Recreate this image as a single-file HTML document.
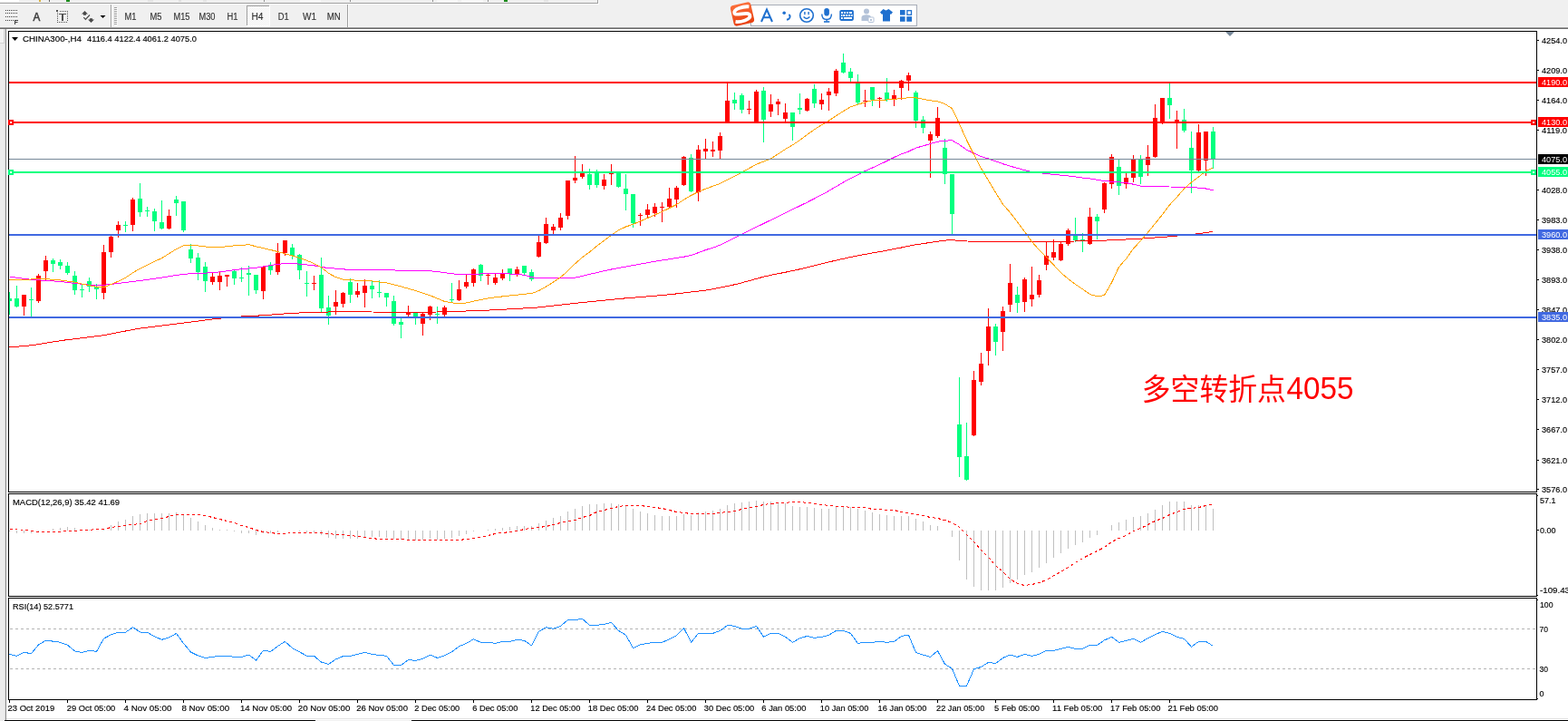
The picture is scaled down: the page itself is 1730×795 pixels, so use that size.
<!DOCTYPE html>
<html><head><meta charset="utf-8"><title>CHINA300-,H4</title>
<style>
html,body{margin:0;padding:0;background:#f0f0f0;overflow:hidden}
body{width:1730px;height:795px;position:relative}
svg text{white-space:pre}
</style></head><body>
<svg width="1730" height="795" viewBox="0 0 1730 795" style="position:absolute;left:0;top:0" font-family="'Liberation Sans', sans-serif">
<rect x="0" y="0" width="659" height="3" fill="#f0f0f0"/>
<rect x="0" y="0" width="21" height="2" fill="#ffffff"/>
<rect x="0" y="3" width="659" height="1" fill="#a0a0a0"/>
<rect x="659" y="0" width="1" height="4" fill="#a0a0a0"/>
<rect x="0" y="4" width="660" height="1" fill="#ffffff"/>
<rect x="660" y="0" width="1" height="5" fill="#ffffff"/>
<rect x="43" y="0" width="2" height="2" fill="#d8b040"/>
<rect x="54" y="0" width="1" height="2" fill="#606060"/>
<rect x="73" y="0" width="4" height="2" fill="#1a8a1a"/>
<rect x="163" y="0" width="6" height="2" fill="#e4e4e4"/>
<rect x="197" y="0" width="3" height="2" fill="#e0e0e0"/>
<rect x="224" y="0" width="4" height="2" fill="#e4e4e4"/>
<rect x="291" y="0" width="1" height="2" fill="#909090"/>
<rect x="331" y="0" width="23" height="2" fill="#f8f8f8"/>
<rect x="386" y="0" width="1" height="2" fill="#909090"/>
<rect x="482" y="0" width="23" height="2" fill="#f8f8f8"/>
<rect x="509" y="0" width="24" height="2" fill="#f8f8f8"/>
<rect x="477" y="0" width="1" height="2" fill="#909090"/>
<rect x="538" y="0" width="1" height="2" fill="#909090"/>
<rect x="556" y="0" width="4" height="2" fill="#1a8a1a"/>
<rect x="600" y="0" width="5" height="2" fill="#e4e4e4"/>
<rect x="0" y="29" width="1730" height="1" fill="#f5f5f5"/>
<rect x="122" y="5" width="1" height="25" fill="#a0a0a0"/>
<rect x="123" y="5" width="1" height="25" fill="#ffffff"/>
<rect x="126" y="8" width="3" height="1" fill="#a0a0a0"/>
<rect x="127" y="9" width="3" height="1" fill="#ffffff"/>
<rect x="126" y="10" width="3" height="1" fill="#a0a0a0"/>
<rect x="127" y="11" width="3" height="1" fill="#ffffff"/>
<rect x="126" y="12" width="3" height="1" fill="#a0a0a0"/>
<rect x="127" y="13" width="3" height="1" fill="#ffffff"/>
<rect x="126" y="14" width="3" height="1" fill="#a0a0a0"/>
<rect x="127" y="15" width="3" height="1" fill="#ffffff"/>
<rect x="126" y="16" width="3" height="1" fill="#a0a0a0"/>
<rect x="127" y="17" width="3" height="1" fill="#ffffff"/>
<rect x="126" y="18" width="3" height="1" fill="#a0a0a0"/>
<rect x="127" y="19" width="3" height="1" fill="#ffffff"/>
<rect x="126" y="20" width="3" height="1" fill="#a0a0a0"/>
<rect x="127" y="21" width="3" height="1" fill="#ffffff"/>
<rect x="126" y="22" width="3" height="1" fill="#a0a0a0"/>
<rect x="127" y="23" width="3" height="1" fill="#ffffff"/>
<rect x="126" y="24" width="3" height="1" fill="#a0a0a0"/>
<rect x="127" y="25" width="3" height="1" fill="#ffffff"/>
<rect x="126" y="26" width="3" height="1" fill="#a0a0a0"/>
<rect x="127" y="27" width="3" height="1" fill="#ffffff"/>
<rect x="383" y="5" width="1" height="25" fill="#a0a0a0"/>
<rect x="384" y="5" width="1" height="25" fill="#ffffff"/>
<rect x="6" y="11" width="1" height="1" fill="#404040"/>
<rect x="8" y="11" width="1" height="1" fill="#404040"/>
<rect x="10" y="11" width="1" height="1" fill="#404040"/>
<rect x="12" y="11" width="1" height="1" fill="#404040"/>
<rect x="14" y="11" width="1" height="1" fill="#404040"/>
<rect x="16" y="11" width="1" height="1" fill="#404040"/>
<rect x="18" y="11" width="1" height="1" fill="#404040"/>
<rect x="6" y="14" width="1" height="1" fill="#404040"/>
<rect x="8" y="14" width="1" height="1" fill="#404040"/>
<rect x="10" y="14" width="1" height="1" fill="#404040"/>
<rect x="12" y="14" width="1" height="1" fill="#404040"/>
<rect x="14" y="14" width="1" height="1" fill="#404040"/>
<rect x="16" y="14" width="1" height="1" fill="#404040"/>
<rect x="18" y="14" width="1" height="1" fill="#404040"/>
<rect x="6" y="18" width="1" height="1" fill="#404040"/>
<rect x="8" y="18" width="1" height="1" fill="#404040"/>
<rect x="10" y="18" width="1" height="1" fill="#404040"/>
<rect x="12" y="18" width="1" height="1" fill="#404040"/>
<rect x="14" y="18" width="1" height="1" fill="#404040"/>
<rect x="16" y="18" width="1" height="1" fill="#404040"/>
<rect x="18" y="18" width="1" height="1" fill="#404040"/>
<rect x="6" y="22" width="1" height="1" fill="#404040"/>
<rect x="8" y="22" width="1" height="1" fill="#404040"/>
<rect x="10" y="22" width="1" height="1" fill="#404040"/>
<rect x="12" y="22" width="1" height="1" fill="#404040"/>
<rect x="14" y="22" width="1" height="1" fill="#404040"/>
<path d="M16 22h4v1h-3v1h2.5v1h-2.5v2h-1z" fill="#404040"/>
<text x="36.6" y="23" font-size="12.5" fill="#404040" textLength="7.8" lengthAdjust="spacingAndGlyphs" stroke="#404040" stroke-width="0.55">A</text>
<rect x="66" y="12" width="1" height="1" fill="#505050"/>
<rect x="68" y="12" width="1" height="1" fill="#505050"/>
<rect x="70" y="12" width="1" height="1" fill="#505050"/>
<rect x="72" y="12" width="1" height="1" fill="#505050"/>
<rect x="74" y="12" width="1" height="1" fill="#505050"/>
<rect x="63" y="24" width="1" height="1" fill="#505050"/>
<rect x="63" y="14" width="1" height="1" fill="#505050"/>
<rect x="74" y="12" width="1" height="1" fill="#505050"/>
<rect x="65" y="24" width="1" height="1" fill="#505050"/>
<rect x="63" y="16" width="1" height="1" fill="#505050"/>
<rect x="74" y="14" width="1" height="1" fill="#505050"/>
<rect x="67" y="24" width="1" height="1" fill="#505050"/>
<rect x="63" y="18" width="1" height="1" fill="#505050"/>
<rect x="74" y="16" width="1" height="1" fill="#505050"/>
<rect x="69" y="24" width="1" height="1" fill="#505050"/>
<rect x="63" y="20" width="1" height="1" fill="#505050"/>
<rect x="74" y="18" width="1" height="1" fill="#505050"/>
<rect x="71" y="24" width="1" height="1" fill="#505050"/>
<rect x="63" y="22" width="1" height="1" fill="#505050"/>
<rect x="74" y="20" width="1" height="1" fill="#505050"/>
<rect x="73" y="24" width="1" height="1" fill="#505050"/>
<rect x="63" y="24" width="1" height="1" fill="#505050"/>
<rect x="74" y="22" width="1" height="1" fill="#505050"/>
<rect x="62" y="11" width="2" height="2" fill="#505050"/>
<rect x="65" y="15" width="8" height="1" fill="#505050"/>
<rect x="68" y="15" width="2" height="8" fill="#505050"/>
<path d="M90 15.6 L93.5 12 L97 15.6 Z M92 15.5 h3 v1.3 h-3 Z" fill="#4a4a4a"/>
<path d="M97 21.4 L104 21.4 L100.5 25 Z M99 20.2 h3 v1.3 h-3 Z" fill="#4a4a4a"/>
<path d="M92.3 19.2 L94.4 21.4 L99 16.5" fill="none" stroke="#4a4a4a" stroke-width="1.2"/>
<path d="M110.5 17 L116.5 17 L113.5 20 Z" fill="#000"/>
<defs><pattern id="dith" width="2" height="2" patternUnits="userSpaceOnUse"><rect width="2" height="2" fill="#f0f0f0"/><rect width="1" height="1" fill="#ffffff"/><rect x="1" y="1" width="1" height="1" fill="#ffffff"/></pattern></defs>
<rect x="273" y="7" width="24" height="21" fill="url(#dith)"/>
<rect x="272" y="6" width="25" height="1" fill="#a0a0a0"/>
<rect x="272" y="6" width="1" height="22" fill="#a0a0a0"/>
<rect x="297" y="6" width="1" height="23" fill="#ffffff"/>
<rect x="272" y="28" width="26" height="1" fill="#ffffff"/>
<text x="137.5" y="22" font-size="10" fill="#333" textLength="13" lengthAdjust="spacingAndGlyphs" stroke="#333" stroke-width="0.15">M1</text>
<text x="165.5" y="22" font-size="10" fill="#333" textLength="13" lengthAdjust="spacingAndGlyphs" stroke="#333" stroke-width="0.15">M5</text>
<text x="191.5" y="22" font-size="10" fill="#333" textLength="18" lengthAdjust="spacingAndGlyphs" stroke="#333" stroke-width="0.15">M15</text>
<text x="219.5" y="22" font-size="10" fill="#333" textLength="18" lengthAdjust="spacingAndGlyphs" stroke="#333" stroke-width="0.15">M30</text>
<text x="250.5" y="22" font-size="10" fill="#333" textLength="12" lengthAdjust="spacingAndGlyphs" stroke="#333" stroke-width="0.15">H1</text>
<text x="277.5" y="22" font-size="10" fill="#333" textLength="13" lengthAdjust="spacingAndGlyphs" stroke="#333" stroke-width="0.15">H4</text>
<text x="306.7" y="22" font-size="10" fill="#333" textLength="12" lengthAdjust="spacingAndGlyphs" stroke="#333" stroke-width="0.15">D1</text>
<text x="334.0" y="22" font-size="10" fill="#333" textLength="15" lengthAdjust="spacingAndGlyphs" stroke="#333" stroke-width="0.15">W1</text>
<text x="360.8" y="22" font-size="10" fill="#333" textLength="15" lengthAdjust="spacingAndGlyphs" stroke="#333" stroke-width="0.15">MN</text>
<rect x="828.5" y="5.5" width="183" height="23" fill="#ffffff" stroke="#a8adb8" stroke-width="1"/>
<defs><linearGradient id="sg" x1="0" y1="0" x2="0" y2="1"><stop offset="0" stop-color="#fb6e3a"/><stop offset="1" stop-color="#e8400f"/></linearGradient></defs>
<g transform="rotate(-13 819 15.5)"><rect x="807.5" y="4" width="23" height="23" rx="3.5" fill="url(#sg)"/><path d="M828 9.2 C822 7.2 810.5 7.8 810.8 12.6 C811.2 16.2 826.5 13.8 826.8 18.6 C827.2 23.6 815 24 809.8 22" fill="none" stroke="#ffffff" stroke-width="3.8" stroke-linecap="butt"/></g>
<path d="M840 24 L846 10.5 L852 24 M842.3 19.3 L849.7 19.3" fill="none" stroke="#1f70cf" stroke-width="2"/>
<circle cx="865.2" cy="14.2" r="1.8" fill="#1f70cf"/>
<path d="M870.3 16.2 Q872.2 17 871.4 19.3 Q870.6 21.3 868 21.8" fill="none" stroke="#1f70cf" stroke-width="1.9"/>
<circle cx="890" cy="17" r="7.3" fill="none" stroke="#1f70cf" stroke-width="1.6"/>
<rect x="887.2" y="13" width="1.4" height="3.2" fill="#1f70cf"/><rect x="891.4" y="13" width="1.4" height="3.2" fill="#1f70cf"/>
<path d="M886.6 18.6 Q890 22.4 893.4 18.6" fill="none" stroke="#1f70cf" stroke-width="1.5"/>
<rect x="909.3" y="9" width="5.6" height="8.5" rx="2.8" fill="#1f70cf"/>
<path d="M906.8 15.5 Q906.8 21.5 912.1 21.5 Q917.4 21.5 917.4 15.5" fill="none" stroke="#1f70cf" stroke-width="1.4"/>
<rect x="911.5" y="21" width="1.3" height="2.5" fill="#1f70cf"/><rect x="909" y="23.2" width="6.3" height="1.6" fill="#1f70cf"/>
<rect x="926.3" y="11" width="15.6" height="11.9" rx="1.8" fill="#1f70cf"/>
<rect x="928" y="13" width="2" height="2" fill="#fff"/>
<rect x="931" y="13" width="2" height="2" fill="#fff"/>
<rect x="934" y="13" width="2" height="2" fill="#fff"/>
<rect x="937" y="13" width="3" height="2" fill="#fff"/>
<rect x="928" y="16" width="1.4" height="2" fill="#fff"/>
<rect x="930.2" y="16" width="2" height="2" fill="#fff"/>
<rect x="933.2" y="16" width="2" height="2" fill="#fff"/>
<rect x="936.2" y="16" width="2" height="2" fill="#fff"/>
<rect x="939.2" y="16" width="1.4" height="2" fill="#fff"/>
<rect x="928" y="19" width="1.8" height="2" fill="#fff"/>
<rect x="931" y="19" width="9" height="2" fill="#fff"/>
<circle cx="956" cy="12.5" r="3" fill="#b3c2d8"/>
<path d="M950.5 23 L950.5 19 Q951 16.3 956 16.3 Q960 16.3 961 18.5 L961 23 Z" fill="#b3c2d8"/>
<rect x="958" y="19" width="6" height="5.5" rx="0.8" fill="#ffffff" stroke="#b3c2d8" stroke-width="1"/>
<rect x="960" y="21" width="2" height="2" fill="#b3c2d8"/>
<path d="M974.5 10 L977.5 11.5 L980.5 10 L985 13.5 L983 16 L982 15.2 L982 23.5 L974 23.5 L974 15.2 L973 16 L971 13.5 Z" fill="#1f70cf"/>
<rect x="993" y="11" width="5.6" height="5.6" fill="#1f70cf"/>
<rect x="1000.9" y="11.7" width="4.6" height="4.6" fill="none" stroke="#1f70cf" stroke-width="1.3"/>
<rect x="993" y="18.2" width="5.6" height="5.6" fill="#1f70cf"/>
<rect x="1000.3" y="18.2" width="5.8" height="5.6" fill="#1f70cf"/>
<rect x="0" y="30" width="1730" height="1" fill="#a0a0a0"/>
<rect x="0" y="31" width="1730" height="1" fill="#696969"/>
<rect x="0" y="32" width="5" height="763" fill="#ececec"/>
<rect x="0" y="32" width="5" height="15" fill="#f4f4f4"/>
<rect x="0" y="47" width="5" height="1" fill="#d4d4d4"/>
<rect x="4" y="32" width="1" height="15" fill="#d4d4d4"/>
<rect x="5" y="32" width="1" height="763" fill="#dcdcdc"/>
<rect x="6" y="32" width="1" height="763" fill="#8c8c8c"/>
<rect x="7" y="32" width="1723" height="760" fill="#ffffff"/>
<rect x="7" y="792" width="1723" height="1" fill="#e3e3e3"/>
<rect x="7" y="793" width="1723" height="1" fill="#ffffff"/>
<rect x="5" y="794" width="343" height="1" fill="#000"/>
<rect x="348" y="794" width="106" height="1" fill="#f0f0f0"/>
<rect x="454" y="794" width="1276" height="1" fill="#000"/>
<rect x="9" y="34" width="1687" height="1" fill="#000"/>
<rect x="9" y="542" width="1687" height="1" fill="#000"/>
<rect x="9" y="34" width="1" height="509" fill="#000"/>
<rect x="1695" y="34" width="1" height="509" fill="#000"/>
<rect x="9" y="544" width="1687" height="1" fill="#000"/>
<rect x="9" y="657" width="1687" height="1" fill="#000"/>
<rect x="9" y="544" width="1" height="114" fill="#000"/>
<rect x="1695" y="544" width="1" height="114" fill="#000"/>
<rect x="9" y="659" width="1687" height="1" fill="#000"/>
<rect x="9" y="771" width="1687" height="1" fill="#000"/>
<rect x="9" y="659" width="1" height="113" fill="#000"/>
<rect x="1695" y="659" width="1" height="113" fill="#000"/>
<path d="M1352 35 L1362 35 L1357 40 Z" fill="#778899"/>
<clipPath id="cm"><rect x="10" y="35" width="1685" height="507"/></clipPath>
<clipPath id="cd"><rect x="10" y="545" width="1685" height="112"/></clipPath>
<clipPath id="cr"><rect x="10" y="660" width="1685" height="111"/></clipPath>
<g clip-path="url(#cm)">
<rect x="10" y="322" width="1" height="25" fill="#00ff7f"/>
<rect x="8" y="329" width="5" height="3" fill="#00ff7f"/>
<rect x="18" y="315" width="1" height="24" fill="#00ff7f"/>
<rect x="16" y="329" width="5" height="9" fill="#00ff7f"/>
<rect x="26" y="325" width="1" height="23" fill="#ff0000"/>
<rect x="24" y="325" width="5" height="13" fill="#ff0000"/>
<rect x="34" y="317" width="1" height="33" fill="#00ff7f"/>
<rect x="32" y="330" width="5" height="1" fill="#00ff7f"/>
<rect x="42" y="302" width="1" height="32" fill="#ff0000"/>
<rect x="40" y="304" width="5" height="28" fill="#ff0000"/>
<rect x="50" y="282" width="1" height="27" fill="#ff0000"/>
<rect x="48" y="287" width="5" height="12" fill="#ff0000"/>
<rect x="58" y="285" width="1" height="15" fill="#00ff7f"/>
<rect x="56" y="287" width="5" height="4" fill="#00ff7f"/>
<rect x="66" y="286" width="1" height="11" fill="#00ff7f"/>
<rect x="64" y="289" width="5" height="4" fill="#00ff7f"/>
<rect x="74" y="289" width="1" height="14" fill="#00ff7f"/>
<rect x="72" y="293" width="5" height="8" fill="#00ff7f"/>
<rect x="82" y="299" width="1" height="26" fill="#00ff7f"/>
<rect x="80" y="304" width="5" height="16" fill="#00ff7f"/>
<rect x="90" y="314" width="1" height="14" fill="#00ff7f"/>
<rect x="88" y="319" width="5" height="1" fill="#00ff7f"/>
<rect x="98" y="306" width="1" height="16" fill="#00ff7f"/>
<rect x="96" y="310" width="5" height="6" fill="#00ff7f"/>
<rect x="106" y="313" width="1" height="17" fill="#00ff7f"/>
<rect x="104" y="316" width="5" height="3" fill="#00ff7f"/>
<rect x="114" y="270" width="1" height="60" fill="#ff0000"/>
<rect x="112" y="278" width="5" height="45" fill="#ff0000"/>
<rect x="122" y="259" width="1" height="25" fill="#ff0000"/>
<rect x="120" y="261" width="5" height="17" fill="#ff0000"/>
<rect x="130" y="244" width="1" height="18" fill="#ff0000"/>
<rect x="128" y="248" width="5" height="6" fill="#ff0000"/>
<rect x="138" y="244" width="1" height="12" fill="#00ff7f"/>
<rect x="136" y="248" width="5" height="1" fill="#00ff7f"/>
<rect x="146" y="218" width="1" height="37" fill="#ff0000"/>
<rect x="144" y="220" width="5" height="28" fill="#ff0000"/>
<rect x="154" y="202" width="1" height="37" fill="#00ff7f"/>
<rect x="152" y="219" width="5" height="15" fill="#00ff7f"/>
<rect x="162" y="228" width="1" height="11" fill="#00ff7f"/>
<rect x="160" y="232" width="5" height="1" fill="#00ff7f"/>
<rect x="170" y="230" width="1" height="25" fill="#00ff7f"/>
<rect x="168" y="233" width="5" height="11" fill="#00ff7f"/>
<rect x="178" y="221" width="1" height="32" fill="#00ff7f"/>
<rect x="176" y="245" width="5" height="7" fill="#00ff7f"/>
<rect x="186" y="231" width="1" height="22" fill="#ff0000"/>
<rect x="184" y="238" width="5" height="14" fill="#ff0000"/>
<rect x="194" y="216" width="1" height="22" fill="#00ff7f"/>
<rect x="192" y="220" width="5" height="4" fill="#00ff7f"/>
<rect x="202" y="222" width="1" height="34" fill="#00ff7f"/>
<rect x="200" y="222" width="5" height="32" fill="#00ff7f"/>
<rect x="210" y="269" width="1" height="21" fill="#00ff7f"/>
<rect x="208" y="275" width="5" height="10" fill="#00ff7f"/>
<rect x="218" y="279" width="1" height="30" fill="#00ff7f"/>
<rect x="216" y="284" width="5" height="16" fill="#00ff7f"/>
<rect x="226" y="289" width="1" height="33" fill="#00ff7f"/>
<rect x="224" y="294" width="5" height="16" fill="#00ff7f"/>
<rect x="234" y="300" width="1" height="14" fill="#ff0000"/>
<rect x="232" y="305" width="5" height="6" fill="#ff0000"/>
<rect x="242" y="300" width="1" height="20" fill="#ff0000"/>
<rect x="240" y="304" width="5" height="7" fill="#ff0000"/>
<rect x="250" y="303" width="1" height="13" fill="#ff0000"/>
<rect x="248" y="303" width="5" height="2" fill="#ff0000"/>
<rect x="258" y="298" width="1" height="16" fill="#00ff7f"/>
<rect x="256" y="299" width="5" height="8" fill="#00ff7f"/>
<rect x="266" y="295" width="1" height="16" fill="#00ff7f"/>
<rect x="264" y="306" width="5" height="1" fill="#00ff7f"/>
<rect x="274" y="293" width="1" height="33" fill="#00ff7f"/>
<rect x="272" y="301" width="5" height="2" fill="#00ff7f"/>
<rect x="282" y="303" width="1" height="21" fill="#00ff7f"/>
<rect x="280" y="303" width="5" height="17" fill="#00ff7f"/>
<rect x="290" y="294" width="1" height="36" fill="#ff0000"/>
<rect x="288" y="294" width="5" height="27" fill="#ff0000"/>
<rect x="298" y="289" width="1" height="14" fill="#00ff7f"/>
<rect x="296" y="293" width="5" height="5" fill="#00ff7f"/>
<rect x="306" y="268" width="1" height="35" fill="#ff0000"/>
<rect x="304" y="279" width="5" height="21" fill="#ff0000"/>
<rect x="314" y="265" width="1" height="17" fill="#ff0000"/>
<rect x="312" y="265" width="5" height="14" fill="#ff0000"/>
<rect x="322" y="269" width="1" height="17" fill="#00ff7f"/>
<rect x="320" y="273" width="5" height="9" fill="#00ff7f"/>
<rect x="330" y="280" width="1" height="28" fill="#00ff7f"/>
<rect x="328" y="281" width="5" height="17" fill="#00ff7f"/>
<rect x="338" y="299" width="1" height="28" fill="#00ff7f"/>
<rect x="336" y="312" width="5" height="1" fill="#00ff7f"/>
<rect x="346" y="304" width="1" height="16" fill="#ff0000"/>
<rect x="344" y="312" width="5" height="1" fill="#ff0000"/>
<rect x="354" y="284" width="1" height="61" fill="#00ff7f"/>
<rect x="352" y="303" width="5" height="37" fill="#00ff7f"/>
<rect x="362" y="326" width="1" height="32" fill="#00ff7f"/>
<rect x="360" y="339" width="5" height="9" fill="#00ff7f"/>
<rect x="370" y="320" width="1" height="27" fill="#ff0000"/>
<rect x="368" y="333" width="5" height="5" fill="#ff0000"/>
<rect x="378" y="322" width="1" height="17" fill="#ff0000"/>
<rect x="376" y="323" width="5" height="12" fill="#ff0000"/>
<rect x="386" y="307" width="1" height="27" fill="#00ff7f"/>
<rect x="384" y="311" width="5" height="14" fill="#00ff7f"/>
<rect x="394" y="312" width="1" height="16" fill="#ff0000"/>
<rect x="392" y="321" width="5" height="4" fill="#ff0000"/>
<rect x="402" y="308" width="1" height="31" fill="#ff0000"/>
<rect x="400" y="315" width="5" height="8" fill="#ff0000"/>
<rect x="410" y="310" width="1" height="19" fill="#00ff7f"/>
<rect x="408" y="315" width="5" height="4" fill="#00ff7f"/>
<rect x="418" y="309" width="1" height="19" fill="#00ff7f"/>
<rect x="416" y="322" width="5" height="1" fill="#00ff7f"/>
<rect x="426" y="323" width="1" height="15" fill="#00ff7f"/>
<rect x="424" y="323" width="5" height="5" fill="#00ff7f"/>
<rect x="434" y="326" width="1" height="33" fill="#00ff7f"/>
<rect x="432" y="332" width="5" height="25" fill="#00ff7f"/>
<rect x="442" y="351" width="1" height="22" fill="#00ff7f"/>
<rect x="440" y="355" width="5" height="3" fill="#00ff7f"/>
<rect x="450" y="337" width="1" height="13" fill="#ff0000"/>
<rect x="448" y="345" width="5" height="2" fill="#ff0000"/>
<rect x="458" y="345" width="1" height="13" fill="#00ff7f"/>
<rect x="456" y="345" width="5" height="4" fill="#00ff7f"/>
<rect x="466" y="345" width="1" height="25" fill="#ff0000"/>
<rect x="464" y="346" width="5" height="11" fill="#ff0000"/>
<rect x="474" y="337" width="1" height="16" fill="#ff0000"/>
<rect x="472" y="338" width="5" height="9" fill="#ff0000"/>
<rect x="482" y="338" width="1" height="19" fill="#00ff7f"/>
<rect x="480" y="346" width="5" height="1" fill="#00ff7f"/>
<rect x="490" y="337" width="1" height="13" fill="#ff0000"/>
<rect x="488" y="339" width="5" height="8" fill="#ff0000"/>
<rect x="498" y="312" width="1" height="22" fill="#00ff7f"/>
<rect x="496" y="330" width="5" height="1" fill="#00ff7f"/>
<rect x="506" y="309" width="1" height="23" fill="#ff0000"/>
<rect x="504" y="319" width="5" height="12" fill="#ff0000"/>
<rect x="514" y="303" width="1" height="15" fill="#ff0000"/>
<rect x="512" y="311" width="5" height="5" fill="#ff0000"/>
<rect x="522" y="296" width="1" height="20" fill="#ff0000"/>
<rect x="520" y="297" width="5" height="15" fill="#ff0000"/>
<rect x="530" y="291" width="1" height="19" fill="#00ff7f"/>
<rect x="528" y="292" width="5" height="12" fill="#00ff7f"/>
<rect x="538" y="301" width="1" height="13" fill="#ff0000"/>
<rect x="536" y="303" width="5" height="1" fill="#ff0000"/>
<rect x="546" y="301" width="1" height="13" fill="#ff0000"/>
<rect x="544" y="306" width="5" height="6" fill="#ff0000"/>
<rect x="554" y="297" width="1" height="12" fill="#ff0000"/>
<rect x="552" y="302" width="5" height="5" fill="#ff0000"/>
<rect x="562" y="296" width="1" height="14" fill="#00ff7f"/>
<rect x="560" y="296" width="5" height="6" fill="#00ff7f"/>
<rect x="570" y="294" width="1" height="11" fill="#ff0000"/>
<rect x="568" y="297" width="5" height="5" fill="#ff0000"/>
<rect x="578" y="293" width="1" height="11" fill="#00ff7f"/>
<rect x="576" y="293" width="5" height="8" fill="#00ff7f"/>
<rect x="586" y="297" width="1" height="13" fill="#00ff7f"/>
<rect x="584" y="300" width="5" height="8" fill="#00ff7f"/>
<rect x="594" y="260" width="1" height="24" fill="#ff0000"/>
<rect x="592" y="267" width="5" height="16" fill="#ff0000"/>
<rect x="602" y="240" width="1" height="29" fill="#ff0000"/>
<rect x="600" y="247" width="5" height="21" fill="#ff0000"/>
<rect x="610" y="247" width="1" height="12" fill="#ff0000"/>
<rect x="608" y="250" width="5" height="4" fill="#ff0000"/>
<rect x="618" y="235" width="1" height="19" fill="#ff0000"/>
<rect x="616" y="240" width="5" height="11" fill="#ff0000"/>
<rect x="626" y="199" width="1" height="43" fill="#ff0000"/>
<rect x="624" y="199" width="5" height="39" fill="#ff0000"/>
<rect x="634" y="172" width="1" height="30" fill="#ff0000"/>
<rect x="632" y="196" width="5" height="3" fill="#ff0000"/>
<rect x="642" y="181" width="1" height="16" fill="#ff0000"/>
<rect x="640" y="190" width="5" height="5" fill="#ff0000"/>
<rect x="650" y="186" width="1" height="23" fill="#00ff7f"/>
<rect x="648" y="192" width="5" height="12" fill="#00ff7f"/>
<rect x="658" y="187" width="1" height="20" fill="#00ff7f"/>
<rect x="656" y="190" width="5" height="14" fill="#00ff7f"/>
<rect x="666" y="192" width="1" height="17" fill="#ff0000"/>
<rect x="664" y="198" width="5" height="7" fill="#ff0000"/>
<rect x="674" y="181" width="1" height="23" fill="#ff0000"/>
<rect x="672" y="191" width="5" height="1" fill="#ff0000"/>
<rect x="682" y="190" width="1" height="17" fill="#00ff7f"/>
<rect x="680" y="190" width="5" height="16" fill="#00ff7f"/>
<rect x="690" y="192" width="1" height="40" fill="#00ff7f"/>
<rect x="688" y="208" width="5" height="6" fill="#00ff7f"/>
<rect x="698" y="214" width="1" height="37" fill="#00ff7f"/>
<rect x="696" y="214" width="5" height="32" fill="#00ff7f"/>
<rect x="706" y="235" width="1" height="14" fill="#ff0000"/>
<rect x="704" y="237" width="5" height="1" fill="#ff0000"/>
<rect x="714" y="225" width="1" height="16" fill="#ff0000"/>
<rect x="712" y="231" width="5" height="6" fill="#ff0000"/>
<rect x="722" y="224" width="1" height="15" fill="#ff0000"/>
<rect x="720" y="228" width="5" height="7" fill="#ff0000"/>
<rect x="730" y="223" width="1" height="22" fill="#ff0000"/>
<rect x="728" y="228" width="5" height="1" fill="#ff0000"/>
<rect x="738" y="207" width="1" height="23" fill="#ff0000"/>
<rect x="736" y="219" width="5" height="9" fill="#ff0000"/>
<rect x="746" y="205" width="1" height="24" fill="#ff0000"/>
<rect x="744" y="207" width="5" height="13" fill="#ff0000"/>
<rect x="754" y="172" width="1" height="33" fill="#ff0000"/>
<rect x="752" y="173" width="5" height="31" fill="#ff0000"/>
<rect x="762" y="170" width="1" height="42" fill="#00ff7f"/>
<rect x="760" y="174" width="5" height="37" fill="#00ff7f"/>
<rect x="770" y="160" width="1" height="62" fill="#ff0000"/>
<rect x="768" y="165" width="5" height="47" fill="#ff0000"/>
<rect x="778" y="153" width="1" height="23" fill="#ff0000"/>
<rect x="776" y="164" width="5" height="3" fill="#ff0000"/>
<rect x="786" y="156" width="1" height="17" fill="#ff0000"/>
<rect x="784" y="165" width="5" height="2" fill="#ff0000"/>
<rect x="794" y="146" width="1" height="30" fill="#ff0000"/>
<rect x="792" y="150" width="5" height="16" fill="#ff0000"/>
<rect x="802" y="91" width="1" height="44" fill="#ff0000"/>
<rect x="800" y="111" width="5" height="23" fill="#ff0000"/>
<rect x="810" y="102" width="1" height="19" fill="#00ff7f"/>
<rect x="808" y="110" width="5" height="4" fill="#00ff7f"/>
<rect x="818" y="103" width="1" height="22" fill="#00ff7f"/>
<rect x="816" y="105" width="5" height="16" fill="#00ff7f"/>
<rect x="826" y="111" width="1" height="15" fill="#ff0000"/>
<rect x="824" y="120" width="5" height="1" fill="#ff0000"/>
<rect x="834" y="99" width="1" height="36" fill="#ff0000"/>
<rect x="832" y="101" width="5" height="33" fill="#ff0000"/>
<rect x="842" y="96" width="1" height="61" fill="#00ff7f"/>
<rect x="840" y="100" width="5" height="32" fill="#00ff7f"/>
<rect x="850" y="104" width="1" height="25" fill="#ff0000"/>
<rect x="848" y="115" width="5" height="8" fill="#ff0000"/>
<rect x="858" y="109" width="1" height="18" fill="#ff0000"/>
<rect x="856" y="112" width="5" height="3" fill="#ff0000"/>
<rect x="866" y="114" width="1" height="20" fill="#ff0000"/>
<rect x="864" y="124" width="5" height="7" fill="#ff0000"/>
<rect x="874" y="124" width="1" height="31" fill="#00ff7f"/>
<rect x="872" y="124" width="5" height="16" fill="#00ff7f"/>
<rect x="882" y="103" width="1" height="23" fill="#00ff7f"/>
<rect x="880" y="119" width="5" height="2" fill="#00ff7f"/>
<rect x="890" y="108" width="1" height="15" fill="#ff0000"/>
<rect x="888" y="109" width="5" height="13" fill="#ff0000"/>
<rect x="898" y="93" width="1" height="26" fill="#00ff7f"/>
<rect x="896" y="98" width="5" height="16" fill="#00ff7f"/>
<rect x="906" y="103" width="1" height="18" fill="#ff0000"/>
<rect x="904" y="110" width="5" height="5" fill="#ff0000"/>
<rect x="914" y="97" width="1" height="25" fill="#ff0000"/>
<rect x="912" y="101" width="5" height="4" fill="#ff0000"/>
<rect x="922" y="76" width="1" height="30" fill="#ff0000"/>
<rect x="920" y="78" width="5" height="25" fill="#ff0000"/>
<rect x="930" y="59" width="1" height="22" fill="#00ff7f"/>
<rect x="928" y="69" width="5" height="11" fill="#00ff7f"/>
<rect x="938" y="75" width="1" height="15" fill="#00ff7f"/>
<rect x="936" y="79" width="5" height="7" fill="#00ff7f"/>
<rect x="946" y="82" width="1" height="34" fill="#00ff7f"/>
<rect x="944" y="92" width="5" height="21" fill="#00ff7f"/>
<rect x="954" y="99" width="1" height="19" fill="#ff0000"/>
<rect x="952" y="111" width="5" height="1" fill="#ff0000"/>
<rect x="962" y="96" width="1" height="21" fill="#00ff7f"/>
<rect x="960" y="96" width="5" height="14" fill="#00ff7f"/>
<rect x="970" y="107" width="1" height="12" fill="#ff0000"/>
<rect x="968" y="108" width="5" height="1" fill="#ff0000"/>
<rect x="978" y="86" width="1" height="26" fill="#00ff7f"/>
<rect x="976" y="102" width="5" height="8" fill="#00ff7f"/>
<rect x="986" y="99" width="1" height="18" fill="#ff0000"/>
<rect x="984" y="105" width="5" height="5" fill="#ff0000"/>
<rect x="994" y="88" width="1" height="22" fill="#ff0000"/>
<rect x="992" y="89" width="5" height="8" fill="#ff0000"/>
<rect x="1002" y="80" width="1" height="20" fill="#ff0000"/>
<rect x="1000" y="83" width="5" height="6" fill="#ff0000"/>
<rect x="1010" y="100" width="1" height="41" fill="#00ff7f"/>
<rect x="1008" y="102" width="5" height="31" fill="#00ff7f"/>
<rect x="1018" y="128" width="1" height="19" fill="#00ff7f"/>
<rect x="1016" y="132" width="5" height="9" fill="#00ff7f"/>
<rect x="1026" y="145" width="1" height="51" fill="#ff0000"/>
<rect x="1024" y="148" width="5" height="7" fill="#ff0000"/>
<rect x="1034" y="118" width="1" height="34" fill="#ff0000"/>
<rect x="1032" y="130" width="5" height="20" fill="#ff0000"/>
<rect x="1042" y="153" width="1" height="50" fill="#00ff7f"/>
<rect x="1040" y="163" width="5" height="29" fill="#00ff7f"/>
<rect x="1050" y="192" width="1" height="67" fill="#00ff7f"/>
<rect x="1048" y="192" width="5" height="44" fill="#00ff7f"/>
<rect x="1058" y="416" width="1" height="110" fill="#00ff7f"/>
<rect x="1056" y="468" width="5" height="36" fill="#00ff7f"/>
<rect x="1066" y="466" width="1" height="64" fill="#00ff7f"/>
<rect x="1064" y="503" width="5" height="26" fill="#00ff7f"/>
<rect x="1074" y="409" width="1" height="72" fill="#ff0000"/>
<rect x="1072" y="419" width="5" height="61" fill="#ff0000"/>
<rect x="1082" y="389" width="1" height="36" fill="#ff0000"/>
<rect x="1080" y="401" width="5" height="20" fill="#ff0000"/>
<rect x="1090" y="340" width="1" height="63" fill="#ff0000"/>
<rect x="1088" y="360" width="5" height="27" fill="#ff0000"/>
<rect x="1098" y="357" width="1" height="35" fill="#00ff7f"/>
<rect x="1096" y="360" width="5" height="17" fill="#00ff7f"/>
<rect x="1106" y="338" width="1" height="49" fill="#ff0000"/>
<rect x="1104" y="343" width="5" height="23" fill="#ff0000"/>
<rect x="1114" y="291" width="1" height="53" fill="#ff0000"/>
<rect x="1112" y="312" width="5" height="24" fill="#ff0000"/>
<rect x="1122" y="316" width="1" height="29" fill="#00ff7f"/>
<rect x="1120" y="325" width="5" height="9" fill="#00ff7f"/>
<rect x="1130" y="306" width="1" height="38" fill="#ff0000"/>
<rect x="1128" y="308" width="5" height="25" fill="#ff0000"/>
<rect x="1138" y="294" width="1" height="44" fill="#ff0000"/>
<rect x="1136" y="325" width="5" height="5" fill="#ff0000"/>
<rect x="1146" y="303" width="1" height="25" fill="#ff0000"/>
<rect x="1144" y="309" width="5" height="16" fill="#ff0000"/>
<rect x="1154" y="267" width="1" height="31" fill="#ff0000"/>
<rect x="1152" y="282" width="5" height="10" fill="#ff0000"/>
<rect x="1162" y="264" width="1" height="23" fill="#ff0000"/>
<rect x="1160" y="278" width="5" height="6" fill="#ff0000"/>
<rect x="1170" y="267" width="1" height="21" fill="#ff0000"/>
<rect x="1168" y="269" width="5" height="18" fill="#ff0000"/>
<rect x="1178" y="252" width="1" height="19" fill="#ff0000"/>
<rect x="1176" y="254" width="5" height="15" fill="#ff0000"/>
<rect x="1186" y="240" width="1" height="27" fill="#00ff7f"/>
<rect x="1184" y="260" width="5" height="5" fill="#00ff7f"/>
<rect x="1194" y="257" width="1" height="21" fill="#00ff7f"/>
<rect x="1192" y="264" width="5" height="1" fill="#00ff7f"/>
<rect x="1202" y="229" width="1" height="41" fill="#ff0000"/>
<rect x="1200" y="239" width="5" height="30" fill="#ff0000"/>
<rect x="1210" y="236" width="1" height="28" fill="#00ff7f"/>
<rect x="1208" y="239" width="5" height="5" fill="#00ff7f"/>
<rect x="1218" y="201" width="1" height="34" fill="#ff0000"/>
<rect x="1216" y="202" width="5" height="29" fill="#ff0000"/>
<rect x="1226" y="170" width="1" height="38" fill="#ff0000"/>
<rect x="1224" y="173" width="5" height="30" fill="#ff0000"/>
<rect x="1234" y="176" width="1" height="39" fill="#00ff7f"/>
<rect x="1232" y="184" width="5" height="21" fill="#00ff7f"/>
<rect x="1242" y="191" width="1" height="17" fill="#ff0000"/>
<rect x="1240" y="196" width="5" height="7" fill="#ff0000"/>
<rect x="1250" y="171" width="1" height="30" fill="#ff0000"/>
<rect x="1248" y="175" width="5" height="21" fill="#ff0000"/>
<rect x="1258" y="171" width="1" height="32" fill="#00ff7f"/>
<rect x="1256" y="175" width="5" height="20" fill="#00ff7f"/>
<rect x="1266" y="160" width="1" height="34" fill="#ff0000"/>
<rect x="1264" y="173" width="5" height="9" fill="#ff0000"/>
<rect x="1274" y="115" width="1" height="59" fill="#ff0000"/>
<rect x="1272" y="130" width="5" height="43" fill="#ff0000"/>
<rect x="1282" y="108" width="1" height="29" fill="#ff0000"/>
<rect x="1280" y="108" width="5" height="28" fill="#ff0000"/>
<rect x="1290" y="92" width="1" height="39" fill="#00ff7f"/>
<rect x="1288" y="108" width="5" height="8" fill="#00ff7f"/>
<rect x="1298" y="122" width="1" height="42" fill="#ff0000"/>
<rect x="1296" y="132" width="5" height="2" fill="#ff0000"/>
<rect x="1306" y="120" width="1" height="26" fill="#00ff7f"/>
<rect x="1304" y="132" width="5" height="12" fill="#00ff7f"/>
<rect x="1314" y="145" width="1" height="68" fill="#00ff7f"/>
<rect x="1312" y="163" width="5" height="25" fill="#00ff7f"/>
<rect x="1322" y="137" width="1" height="52" fill="#ff0000"/>
<rect x="1320" y="146" width="5" height="42" fill="#ff0000"/>
<rect x="1330" y="145" width="1" height="49" fill="#ff0000"/>
<rect x="1328" y="145" width="5" height="32" fill="#ff0000"/>
<rect x="1338" y="140" width="1" height="46" fill="#00ff7f"/>
<rect x="1336" y="145" width="5" height="31" fill="#00ff7f"/>
<polyline points="10.5,382.9 18.5,382.2 26.5,381.5 34.5,380.8 42.5,379.7 50.5,378.3 58.5,377.0 66.5,375.7 74.5,374.6 82.5,373.7 90.5,372.7 98.5,371.7 106.5,370.7 114.5,369.7 122.5,368.1 130.5,366.6 138.5,365.0 146.5,363.5 154.5,362.1 162.5,361.1 170.5,360.1 178.5,359.1 186.5,358.1 194.5,357.1 202.5,356.1 210.5,355.1 218.5,354.1 226.5,353.0 234.5,352.0 242.5,351.2 250.5,350.4 258.5,349.6 266.5,349.0 274.5,348.8 282.5,348.2 290.5,347.7 298.5,347.1 306.5,346.5 314.5,345.9 322.5,345.4 330.5,345.0 338.5,344.7 346.5,344.4 354.5,344.2 362.5,344.0 370.5,343.9 378.5,343.7 386.5,343.6 394.5,343.7 402.5,343.9 410.5,344.0 418.5,344.1 426.5,344.1 434.5,344.1 442.5,344.1 450.5,344.1 458.5,344.1 466.5,344.1 474.5,344.1 482.5,344.0 490.5,343.9 498.5,343.7 506.5,343.3 514.5,343.0 522.5,342.7 530.5,342.4 538.5,342.1 546.5,341.7 554.5,341.3 562.5,340.8 570.5,340.4 578.5,339.9 586.5,339.5 594.5,338.9 602.5,338.0 610.5,337.1 618.5,336.2 626.5,335.3 634.5,334.4 642.5,333.5 650.5,332.8 658.5,332.0 666.5,331.2 674.5,330.4 682.5,329.6 690.5,328.8 698.5,328.2 706.5,327.5 714.5,326.9 722.5,326.2 730.5,325.5 738.5,324.8 746.5,323.9 754.5,322.9 762.5,322.0 770.5,321.1 778.5,320.1 786.5,318.7 794.5,317.1 802.5,315.5 810.5,313.8 818.5,311.8 826.5,309.6 834.5,307.4 842.5,305.2 850.5,303.4 858.5,301.8 866.5,300.2 874.5,298.6 882.5,296.8 890.5,294.8 898.5,292.8 906.5,290.8 914.5,288.9 922.5,287.1 930.5,285.3 938.5,283.5 946.5,281.9 954.5,280.4 962.5,279.0 970.5,277.6 978.5,276.1 986.5,274.6 994.5,273.0 1002.5,271.4 1010.5,269.8 1018.5,268.6 1026.5,267.4 1034.5,266.2 1042.5,265.1 1050.5,264.6 1058.5,265.5 1066.5,266.0 1074.5,266.1 1082.5,266.3 1090.5,266.4 1098.5,266.5 1106.5,266.5 1114.5,266.4 1122.5,266.4 1130.5,266.3 1138.5,266.3 1146.5,266.2 1154.5,266.2 1162.5,266.2 1170.5,266.1 1178.5,266.1 1186.5,266.0 1194.5,265.9 1202.5,265.6 1210.5,265.4 1218.5,265.1 1226.5,264.8 1234.5,264.4 1242.5,264.0 1250.5,263.5 1258.5,263.1 1266.5,262.6 1274.5,262.0 1282.5,261.4 1290.5,260.8 1298.5,260.1 1306.5,259.3 1314.5,258.5 1322.5,257.6 1330.5,256.5 1338.5,255.5" fill="none" stroke="#ff0000" stroke-width="1" stroke-linejoin="round" shape-rendering="crispEdges"/>
<polyline points="10.5,304.9 18.5,306.2 26.5,307.3 34.5,308.3 42.5,308.8 50.5,309.4 58.5,309.9 66.5,310.5 74.5,311.5 82.5,312.4 90.5,313.3 98.5,314.2 106.5,315.1 114.5,314.3 122.5,313.4 130.5,312.5 138.5,311.5 146.5,310.5 154.5,309.5 162.5,308.4 170.5,307.3 178.5,306.1 186.5,304.8 194.5,303.5 202.5,302.5 210.5,301.6 218.5,301.3 226.5,301.1 234.5,300.5 242.5,299.9 250.5,298.8 258.5,297.7 266.5,296.7 274.5,296.0 282.5,295.3 290.5,293.9 298.5,292.6 306.5,291.4 314.5,290.5 322.5,290.7 330.5,291.1 338.5,292.0 346.5,292.8 354.5,294.4 362.5,295.6 370.5,296.1 378.5,296.8 386.5,297.6 394.5,297.9 402.5,297.6 410.5,297.3 418.5,297.2 426.5,297.2 434.5,297.8 442.5,298.8 450.5,298.8 458.5,298.8 466.5,298.8 474.5,298.8 482.5,299.4 490.5,300.7 498.5,301.8 506.5,302.4 514.5,302.5 522.5,302.3 530.5,302.0 538.5,301.7 546.5,301.6 554.5,301.6 562.5,302.0 570.5,302.6 578.5,303.2 586.5,305.6 594.5,306.8 602.5,306.8 610.5,306.9 618.5,306.9 626.5,306.5 634.5,306.1 642.5,304.4 650.5,302.4 658.5,300.6 666.5,298.7 674.5,297.0 682.5,295.5 690.5,294.1 698.5,292.6 706.5,291.1 714.5,289.7 722.5,288.2 730.5,287.0 738.5,285.7 746.5,284.4 754.5,283.2 762.5,281.6 770.5,278.6 778.5,275.6 786.5,273.2 794.5,270.2 802.5,266.4 810.5,262.4 818.5,258.3 826.5,254.3 834.5,250.4 842.5,246.5 850.5,242.6 858.5,238.7 866.5,234.8 874.5,230.9 882.5,227.0 890.5,223.1 898.5,219.0 906.5,214.8 914.5,210.5 922.5,205.7 930.5,201.0 938.5,196.8 946.5,192.6 954.5,188.5 962.5,185.0 970.5,181.4 978.5,177.5 986.5,173.5 994.5,169.8 1002.5,167.0 1010.5,163.1 1018.5,160.9 1026.5,158.5 1034.5,156.3 1042.5,155.1 1050.5,154.9 1058.5,159.5 1066.5,165.2 1074.5,168.9 1082.5,172.7 1090.5,175.0 1098.5,177.8 1106.5,180.7 1114.5,183.2 1122.5,185.4 1130.5,187.6 1138.5,189.5 1146.5,190.6 1154.5,191.6 1162.5,192.4 1170.5,193.2 1178.5,194.0 1186.5,195.0 1194.5,196.1 1202.5,197.0 1210.5,198.2 1218.5,199.5 1226.5,200.3 1234.5,200.9 1242.5,201.6 1250.5,203.2 1258.5,205.1 1266.5,205.7 1274.5,205.8 1282.5,205.9 1290.5,206.0 1298.5,206.1 1306.5,206.2 1314.5,206.5 1322.5,207.1 1330.5,208.0 1338.5,209.9" fill="none" stroke="#ff00ff" stroke-width="1" stroke-linejoin="round" shape-rendering="crispEdges"/>
<polyline points="10.5,308.5 18.5,308.3 26.5,308.2 34.5,308.0 42.5,307.6 50.5,307.6 58.5,308.3 66.5,309.0 74.5,310.1 82.5,311.1 90.5,313.1 98.5,314.8 106.5,316.2 114.5,316.9 122.5,313.5 130.5,310.2 138.5,306.2 146.5,300.8 154.5,296.1 162.5,292.1 170.5,288.3 178.5,284.7 186.5,279.6 194.5,274.7 202.5,270.7 210.5,270.2 218.5,270.9 226.5,272.0 234.5,272.9 242.5,272.6 250.5,271.7 258.5,270.9 266.5,270.4 274.5,269.7 282.5,271.8 290.5,273.7 298.5,275.5 306.5,277.5 314.5,279.8 322.5,282.0 330.5,284.4 338.5,287.3 346.5,290.6 354.5,294.6 362.5,301.4 370.5,305.6 378.5,308.2 386.5,308.8 394.5,309.2 402.5,309.5 410.5,309.9 418.5,310.9 426.5,311.9 434.5,313.9 442.5,315.9 450.5,318.2 458.5,320.5 466.5,323.2 474.5,325.8 482.5,329.1 490.5,332.4 498.5,333.8 506.5,334.7 514.5,334.0 522.5,332.2 530.5,330.4 538.5,328.9 546.5,327.8 554.5,326.9 562.5,326.0 570.5,325.2 578.5,324.3 586.5,323.5 594.5,320.6 602.5,316.0 610.5,311.1 618.5,305.7 626.5,298.8 634.5,290.8 642.5,283.7 650.5,277.9 658.5,271.3 666.5,265.3 674.5,259.2 682.5,253.9 690.5,250.0 698.5,247.3 706.5,243.9 714.5,240.5 722.5,236.9 730.5,233.4 738.5,229.5 746.5,225.5 754.5,220.2 762.5,215.5 770.5,211.6 778.5,208.2 786.5,205.3 794.5,202.4 802.5,198.4 810.5,194.3 818.5,190.1 826.5,185.6 834.5,181.2 842.5,178.1 850.5,175.0 858.5,169.8 866.5,164.5 874.5,159.8 882.5,154.5 890.5,148.5 898.5,142.8 906.5,137.7 914.5,133.0 922.5,127.6 930.5,122.6 938.5,117.9 946.5,115.2 954.5,112.8 962.5,110.5 970.5,110.3 978.5,110.0 986.5,109.4 994.5,108.4 1002.5,107.8 1010.5,107.8 1018.5,109.4 1026.5,110.9 1034.5,111.7 1042.5,114.6 1050.5,119.7 1058.5,136.6 1066.5,154.4 1074.5,170.4 1082.5,185.6 1090.5,198.9 1098.5,212.4 1106.5,225.2 1114.5,234.4 1122.5,244.7 1130.5,255.4 1138.5,266.5 1146.5,275.5 1154.5,283.6 1162.5,292.1 1170.5,300.8 1178.5,307.4 1186.5,313.5 1194.5,318.8 1202.5,324.4 1210.5,326.9 1218.5,325.5 1226.5,311.7 1234.5,294.4 1242.5,285.4 1250.5,274.1 1258.5,265.5 1266.5,256.3 1274.5,246.5 1282.5,236.5 1290.5,225.9 1298.5,217.4 1306.5,208.1 1314.5,201.1 1322.5,195.0 1330.5,188.5 1338.5,184.8" fill="none" stroke="#ffa500" stroke-width="1" stroke-linejoin="round" shape-rendering="crispEdges"/>
<rect x="10" y="90" width="1685" height="2" fill="#ff0000"/>
<rect x="10" y="134" width="1685" height="2" fill="#ff0000"/>
<rect x="10" y="175" width="1685" height="1" fill="#778899"/>
<rect x="10" y="189" width="1685" height="2" fill="#00ff7f"/>
<rect x="10" y="258" width="1685" height="2" fill="#4169e1"/>
<rect x="10" y="349" width="1685" height="2" fill="#4169e1"/>
</g>
<rect x="9" y="132" width="6" height="6" fill="#ff0000"/>
<rect x="11" y="134" width="2" height="2" fill="#ffffff"/>
<rect x="1689" y="132" width="6" height="6" fill="#ff0000"/>
<rect x="1691" y="134" width="2" height="2" fill="#ffffff"/>
<rect x="9" y="187" width="6" height="6" fill="#00ff7f"/>
<rect x="11" y="189" width="2" height="2" fill="#ffffff"/>
<rect x="1689" y="187" width="6" height="6" fill="#00ff7f"/>
<rect x="1691" y="189" width="2" height="2" fill="#ffffff"/>
<text x="1259.8" y="440.5" font-size="33" fill="#ff0000" font-family="'Liberation Sans', 'Noto Sans CJK SC', sans-serif" textLength="159" lengthAdjust="spacingAndGlyphs">多空转折点</text>
<text x="1419.6" y="440" font-size="34.5" fill="#ff0000" font-family="'Liberation Sans', 'Noto Sans CJK SC', sans-serif" textLength="74" lengthAdjust="spacingAndGlyphs">4055</text>
<path d="M13 41 L20 41 L16.5 45 Z" fill="#000"/>
<text x="25" y="46" font-size="9.6" fill="#000" textLength="65" lengthAdjust="spacingAndGlyphs" stroke="#000" stroke-width="0.15">CHINA300-,H4</text>
<text x="96" y="46" font-size="9.6" fill="#000" textLength="121" lengthAdjust="spacingAndGlyphs" stroke="#000" stroke-width="0.15">4116.4 4122.4 4061.2 4075.0</text>
<rect x="1696" y="44" width="2" height="1" fill="#000"/>
<text x="1701" y="48" font-size="9.6" fill="#000" textLength="28" lengthAdjust="spacingAndGlyphs" stroke="#000" stroke-width="0.15">4254.0</text>
<rect x="1696" y="77" width="2" height="1" fill="#000"/>
<text x="1701" y="81" font-size="9.6" fill="#000" textLength="28" lengthAdjust="spacingAndGlyphs" stroke="#000" stroke-width="0.15">4209.0</text>
<rect x="1696" y="110" width="2" height="1" fill="#000"/>
<text x="1701" y="114" font-size="9.6" fill="#000" textLength="28" lengthAdjust="spacingAndGlyphs" stroke="#000" stroke-width="0.15">4164.0</text>
<rect x="1696" y="143" width="2" height="1" fill="#000"/>
<text x="1701" y="147" font-size="9.6" fill="#000" textLength="28" lengthAdjust="spacingAndGlyphs" stroke="#000" stroke-width="0.15">4119.0</text>
<rect x="1696" y="209" width="2" height="1" fill="#000"/>
<text x="1701" y="213" font-size="9.6" fill="#000" textLength="28" lengthAdjust="spacingAndGlyphs" stroke="#000" stroke-width="0.15">4028.0</text>
<rect x="1696" y="242" width="2" height="1" fill="#000"/>
<text x="1701" y="246" font-size="9.6" fill="#000" textLength="28" lengthAdjust="spacingAndGlyphs" stroke="#000" stroke-width="0.15">3983.0</text>
<rect x="1696" y="275" width="2" height="1" fill="#000"/>
<text x="1701" y="279" font-size="9.6" fill="#000" textLength="28" lengthAdjust="spacingAndGlyphs" stroke="#000" stroke-width="0.15">3938.0</text>
<rect x="1696" y="308" width="2" height="1" fill="#000"/>
<text x="1701" y="312" font-size="9.6" fill="#000" textLength="28" lengthAdjust="spacingAndGlyphs" stroke="#000" stroke-width="0.15">3893.0</text>
<rect x="1696" y="341" width="2" height="1" fill="#000"/>
<text x="1701" y="345" font-size="9.6" fill="#000" textLength="28" lengthAdjust="spacingAndGlyphs" stroke="#000" stroke-width="0.15">3847.0</text>
<rect x="1696" y="374" width="2" height="1" fill="#000"/>
<text x="1701" y="378" font-size="9.6" fill="#000" textLength="28" lengthAdjust="spacingAndGlyphs" stroke="#000" stroke-width="0.15">3802.0</text>
<rect x="1696" y="407" width="2" height="1" fill="#000"/>
<text x="1701" y="411" font-size="9.6" fill="#000" textLength="28" lengthAdjust="spacingAndGlyphs" stroke="#000" stroke-width="0.15">3757.0</text>
<rect x="1696" y="440" width="2" height="1" fill="#000"/>
<text x="1701" y="444" font-size="9.6" fill="#000" textLength="28" lengthAdjust="spacingAndGlyphs" stroke="#000" stroke-width="0.15">3712.0</text>
<rect x="1696" y="473" width="2" height="1" fill="#000"/>
<text x="1701" y="477" font-size="9.6" fill="#000" textLength="28" lengthAdjust="spacingAndGlyphs" stroke="#000" stroke-width="0.15">3667.0</text>
<rect x="1696" y="507" width="2" height="1" fill="#000"/>
<text x="1701" y="511" font-size="9.6" fill="#000" textLength="28" lengthAdjust="spacingAndGlyphs" stroke="#000" stroke-width="0.15">3621.0</text>
<rect x="1696" y="539" width="2" height="1" fill="#000"/>
<text x="1701" y="543" font-size="9.6" fill="#000" textLength="28" lengthAdjust="spacingAndGlyphs" stroke="#000" stroke-width="0.15">3576.0</text>
<rect x="1697" y="85" width="33" height="11" fill="#ff0000"/>
<text x="1701" y="94" font-size="9.6" fill="#ffffff" textLength="28" lengthAdjust="spacingAndGlyphs">4190.0</text>
<rect x="1697" y="129" width="33" height="11" fill="#ff0000"/>
<text x="1701" y="138" font-size="9.6" fill="#ffffff" textLength="28" lengthAdjust="spacingAndGlyphs">4130.0</text>
<rect x="1697" y="170" width="33" height="11" fill="#000000"/>
<text x="1701" y="179" font-size="9.6" fill="#ffffff" textLength="28" lengthAdjust="spacingAndGlyphs">4075.0</text>
<rect x="1697" y="184" width="33" height="11" fill="#00ff7f"/>
<text x="1701" y="193" font-size="9.6" fill="#ffffff" textLength="28" lengthAdjust="spacingAndGlyphs">4055.0</text>
<rect x="1697" y="253" width="33" height="11" fill="#4169e1"/>
<text x="1701" y="262" font-size="9.6" fill="#ffffff" textLength="28" lengthAdjust="spacingAndGlyphs">3960.0</text>
<rect x="1697" y="344" width="33" height="11" fill="#4169e1"/>
<text x="1701" y="353" font-size="9.6" fill="#ffffff" textLength="28" lengthAdjust="spacingAndGlyphs">3835.0</text>
<g clip-path="url(#cd)">
<rect x="10" y="585" width="1" height="1" fill="#c0c0c0"/>
<rect x="18" y="585" width="1" height="3" fill="#c0c0c0"/>
<rect x="26" y="585" width="1" height="3" fill="#c0c0c0"/>
<rect x="34" y="585" width="1" height="3" fill="#c0c0c0"/>
<rect x="42" y="585" width="1" height="1" fill="#c0c0c0"/>
<rect x="58" y="583" width="1" height="2" fill="#c0c0c0"/>
<rect x="66" y="582" width="1" height="3" fill="#c0c0c0"/>
<rect x="74" y="581" width="1" height="4" fill="#c0c0c0"/>
<rect x="82" y="582" width="1" height="3" fill="#c0c0c0"/>
<rect x="90" y="584" width="1" height="1" fill="#c0c0c0"/>
<rect x="98" y="584" width="1" height="1" fill="#c0c0c0"/>
<rect x="114" y="583" width="1" height="2" fill="#c0c0c0"/>
<rect x="122" y="579" width="1" height="6" fill="#c0c0c0"/>
<rect x="130" y="575" width="1" height="10" fill="#c0c0c0"/>
<rect x="138" y="573" width="1" height="12" fill="#c0c0c0"/>
<rect x="146" y="569" width="1" height="16" fill="#c0c0c0"/>
<rect x="154" y="567" width="1" height="18" fill="#c0c0c0"/>
<rect x="162" y="566" width="1" height="19" fill="#c0c0c0"/>
<rect x="170" y="566" width="1" height="19" fill="#c0c0c0"/>
<rect x="178" y="566" width="1" height="19" fill="#c0c0c0"/>
<rect x="186" y="566" width="1" height="19" fill="#c0c0c0"/>
<rect x="194" y="565" width="1" height="20" fill="#c0c0c0"/>
<rect x="202" y="567" width="1" height="18" fill="#c0c0c0"/>
<rect x="210" y="571" width="1" height="14" fill="#c0c0c0"/>
<rect x="218" y="575" width="1" height="10" fill="#c0c0c0"/>
<rect x="226" y="579" width="1" height="6" fill="#c0c0c0"/>
<rect x="234" y="582" width="1" height="3" fill="#c0c0c0"/>
<rect x="242" y="584" width="1" height="1" fill="#c0c0c0"/>
<rect x="250" y="584" width="1" height="1" fill="#c0c0c0"/>
<rect x="258" y="585" width="1" height="1" fill="#c0c0c0"/>
<rect x="266" y="585" width="1" height="3" fill="#c0c0c0"/>
<rect x="274" y="585" width="1" height="3" fill="#c0c0c0"/>
<rect x="282" y="585" width="1" height="5" fill="#c0c0c0"/>
<rect x="290" y="585" width="1" height="3" fill="#c0c0c0"/>
<rect x="298" y="585" width="1" height="3" fill="#c0c0c0"/>
<rect x="306" y="585" width="1" height="2" fill="#c0c0c0"/>
<rect x="330" y="585" width="1" height="1" fill="#c0c0c0"/>
<rect x="338" y="585" width="1" height="2" fill="#c0c0c0"/>
<rect x="346" y="585" width="1" height="2" fill="#c0c0c0"/>
<rect x="354" y="585" width="1" height="5" fill="#c0c0c0"/>
<rect x="362" y="585" width="1" height="8" fill="#c0c0c0"/>
<rect x="370" y="585" width="1" height="9" fill="#c0c0c0"/>
<rect x="378" y="585" width="1" height="9" fill="#c0c0c0"/>
<rect x="386" y="585" width="1" height="9" fill="#c0c0c0"/>
<rect x="394" y="585" width="1" height="9" fill="#c0c0c0"/>
<rect x="402" y="585" width="1" height="8" fill="#c0c0c0"/>
<rect x="410" y="585" width="1" height="7" fill="#c0c0c0"/>
<rect x="418" y="585" width="1" height="7" fill="#c0c0c0"/>
<rect x="426" y="585" width="1" height="8" fill="#c0c0c0"/>
<rect x="434" y="585" width="1" height="9" fill="#c0c0c0"/>
<rect x="442" y="585" width="1" height="10" fill="#c0c0c0"/>
<rect x="450" y="585" width="1" height="10" fill="#c0c0c0"/>
<rect x="458" y="585" width="1" height="11" fill="#c0c0c0"/>
<rect x="466" y="585" width="1" height="10" fill="#c0c0c0"/>
<rect x="474" y="585" width="1" height="9" fill="#c0c0c0"/>
<rect x="482" y="585" width="1" height="10" fill="#c0c0c0"/>
<rect x="490" y="585" width="1" height="9" fill="#c0c0c0"/>
<rect x="498" y="585" width="1" height="8" fill="#c0c0c0"/>
<rect x="506" y="585" width="1" height="6" fill="#c0c0c0"/>
<rect x="514" y="585" width="1" height="4" fill="#c0c0c0"/>
<rect x="522" y="585" width="1" height="1" fill="#c0c0c0"/>
<rect x="538" y="584" width="1" height="1" fill="#c0c0c0"/>
<rect x="546" y="583" width="1" height="2" fill="#c0c0c0"/>
<rect x="554" y="582" width="1" height="3" fill="#c0c0c0"/>
<rect x="562" y="581" width="1" height="4" fill="#c0c0c0"/>
<rect x="570" y="580" width="1" height="5" fill="#c0c0c0"/>
<rect x="578" y="580" width="1" height="5" fill="#c0c0c0"/>
<rect x="586" y="580" width="1" height="5" fill="#c0c0c0"/>
<rect x="594" y="577" width="1" height="8" fill="#c0c0c0"/>
<rect x="602" y="574" width="1" height="11" fill="#c0c0c0"/>
<rect x="610" y="571" width="1" height="14" fill="#c0c0c0"/>
<rect x="618" y="569" width="1" height="16" fill="#c0c0c0"/>
<rect x="626" y="564" width="1" height="21" fill="#c0c0c0"/>
<rect x="634" y="561" width="1" height="24" fill="#c0c0c0"/>
<rect x="642" y="558" width="1" height="27" fill="#c0c0c0"/>
<rect x="650" y="556" width="1" height="29" fill="#c0c0c0"/>
<rect x="658" y="556" width="1" height="29" fill="#c0c0c0"/>
<rect x="666" y="555" width="1" height="30" fill="#c0c0c0"/>
<rect x="674" y="555" width="1" height="30" fill="#c0c0c0"/>
<rect x="682" y="556" width="1" height="29" fill="#c0c0c0"/>
<rect x="690" y="558" width="1" height="27" fill="#c0c0c0"/>
<rect x="698" y="561" width="1" height="24" fill="#c0c0c0"/>
<rect x="706" y="564" width="1" height="21" fill="#c0c0c0"/>
<rect x="714" y="566" width="1" height="19" fill="#c0c0c0"/>
<rect x="722" y="568" width="1" height="17" fill="#c0c0c0"/>
<rect x="730" y="569" width="1" height="16" fill="#c0c0c0"/>
<rect x="738" y="569" width="1" height="16" fill="#c0c0c0"/>
<rect x="746" y="569" width="1" height="16" fill="#c0c0c0"/>
<rect x="754" y="567" width="1" height="18" fill="#c0c0c0"/>
<rect x="762" y="568" width="1" height="17" fill="#c0c0c0"/>
<rect x="770" y="565" width="1" height="20" fill="#c0c0c0"/>
<rect x="778" y="564" width="1" height="21" fill="#c0c0c0"/>
<rect x="786" y="563" width="1" height="22" fill="#c0c0c0"/>
<rect x="794" y="561" width="1" height="24" fill="#c0c0c0"/>
<rect x="802" y="557" width="1" height="28" fill="#c0c0c0"/>
<rect x="810" y="555" width="1" height="30" fill="#c0c0c0"/>
<rect x="818" y="554" width="1" height="31" fill="#c0c0c0"/>
<rect x="826" y="553" width="1" height="32" fill="#c0c0c0"/>
<rect x="834" y="552" width="1" height="33" fill="#c0c0c0"/>
<rect x="842" y="553" width="1" height="32" fill="#c0c0c0"/>
<rect x="850" y="553" width="1" height="32" fill="#c0c0c0"/>
<rect x="858" y="554" width="1" height="31" fill="#c0c0c0"/>
<rect x="866" y="555" width="1" height="30" fill="#c0c0c0"/>
<rect x="874" y="558" width="1" height="27" fill="#c0c0c0"/>
<rect x="882" y="559" width="1" height="26" fill="#c0c0c0"/>
<rect x="890" y="559" width="1" height="26" fill="#c0c0c0"/>
<rect x="898" y="560" width="1" height="25" fill="#c0c0c0"/>
<rect x="906" y="561" width="1" height="24" fill="#c0c0c0"/>
<rect x="914" y="561" width="1" height="24" fill="#c0c0c0"/>
<rect x="922" y="559" width="1" height="26" fill="#c0c0c0"/>
<rect x="930" y="558" width="1" height="27" fill="#c0c0c0"/>
<rect x="938" y="559" width="1" height="26" fill="#c0c0c0"/>
<rect x="946" y="561" width="1" height="24" fill="#c0c0c0"/>
<rect x="954" y="563" width="1" height="22" fill="#c0c0c0"/>
<rect x="962" y="565" width="1" height="20" fill="#c0c0c0"/>
<rect x="970" y="567" width="1" height="18" fill="#c0c0c0"/>
<rect x="978" y="568" width="1" height="17" fill="#c0c0c0"/>
<rect x="986" y="569" width="1" height="16" fill="#c0c0c0"/>
<rect x="994" y="569" width="1" height="16" fill="#c0c0c0"/>
<rect x="1002" y="569" width="1" height="16" fill="#c0c0c0"/>
<rect x="1010" y="572" width="1" height="13" fill="#c0c0c0"/>
<rect x="1018" y="575" width="1" height="10" fill="#c0c0c0"/>
<rect x="1026" y="579" width="1" height="6" fill="#c0c0c0"/>
<rect x="1034" y="580" width="1" height="5" fill="#c0c0c0"/>
<rect x="1050" y="585" width="1" height="7" fill="#c0c0c0"/>
<rect x="1058" y="585" width="1" height="33" fill="#c0c0c0"/>
<rect x="1066" y="585" width="1" height="54" fill="#c0c0c0"/>
<rect x="1074" y="585" width="1" height="62" fill="#c0c0c0"/>
<rect x="1082" y="585" width="1" height="66" fill="#c0c0c0"/>
<rect x="1090" y="585" width="1" height="66" fill="#c0c0c0"/>
<rect x="1098" y="585" width="1" height="66" fill="#c0c0c0"/>
<rect x="1106" y="585" width="1" height="63" fill="#c0c0c0"/>
<rect x="1114" y="585" width="1" height="58" fill="#c0c0c0"/>
<rect x="1122" y="585" width="1" height="54" fill="#c0c0c0"/>
<rect x="1130" y="585" width="1" height="49" fill="#c0c0c0"/>
<rect x="1138" y="585" width="1" height="46" fill="#c0c0c0"/>
<rect x="1146" y="585" width="1" height="41" fill="#c0c0c0"/>
<rect x="1154" y="585" width="1" height="36" fill="#c0c0c0"/>
<rect x="1162" y="585" width="1" height="30" fill="#c0c0c0"/>
<rect x="1170" y="585" width="1" height="25" fill="#c0c0c0"/>
<rect x="1178" y="585" width="1" height="20" fill="#c0c0c0"/>
<rect x="1186" y="585" width="1" height="16" fill="#c0c0c0"/>
<rect x="1194" y="585" width="1" height="13" fill="#c0c0c0"/>
<rect x="1202" y="585" width="1" height="8" fill="#c0c0c0"/>
<rect x="1210" y="585" width="1" height="5" fill="#c0c0c0"/>
<rect x="1226" y="579" width="1" height="6" fill="#c0c0c0"/>
<rect x="1234" y="576" width="1" height="9" fill="#c0c0c0"/>
<rect x="1242" y="573" width="1" height="12" fill="#c0c0c0"/>
<rect x="1250" y="570" width="1" height="15" fill="#c0c0c0"/>
<rect x="1258" y="569" width="1" height="16" fill="#c0c0c0"/>
<rect x="1266" y="566" width="1" height="19" fill="#c0c0c0"/>
<rect x="1274" y="562" width="1" height="23" fill="#c0c0c0"/>
<rect x="1282" y="557" width="1" height="28" fill="#c0c0c0"/>
<rect x="1290" y="553" width="1" height="32" fill="#c0c0c0"/>
<rect x="1298" y="553" width="1" height="32" fill="#c0c0c0"/>
<rect x="1306" y="553" width="1" height="32" fill="#c0c0c0"/>
<rect x="1314" y="557" width="1" height="28" fill="#c0c0c0"/>
<rect x="1322" y="557" width="1" height="28" fill="#c0c0c0"/>
<rect x="1330" y="558" width="1" height="27" fill="#c0c0c0"/>
<rect x="1338" y="561" width="1" height="24" fill="#c0c0c0"/>
<polyline points="10.5,583.5 18.5,583.5 26.5,584.5 34.5,585.5 42.5,586.5 50.5,586.5 58.5,586.5 66.5,586.5 74.5,585.5 82.5,585.5 90.5,584.5 98.5,584.5 106.5,583.5 114.5,583.5 122.5,581.5 130.5,580.5 138.5,579.5 146.5,578.5 154.5,577.5 162.5,574.5 170.5,572.5 178.5,571.5 186.5,569.5 194.5,567.5 202.5,567.5 210.5,567.5 218.5,567.5 226.5,568.5 234.5,570.5 242.5,572.5 250.5,574.5 258.5,576.5 266.5,579.5 274.5,581.5 282.5,584.5 290.5,586.5 298.5,587.5 306.5,588.5 314.5,588.5 322.5,587.5 330.5,587.5 338.5,587.5 346.5,587.5 354.5,587.5 362.5,588.5 370.5,589.5 378.5,589.5 386.5,590.5 394.5,591.5 402.5,592.5 410.5,593.5 418.5,594.5 426.5,594.5 434.5,594.5 442.5,594.5 450.5,595.5 458.5,595.5 466.5,595.5 474.5,595.5 482.5,595.5 490.5,595.5 498.5,595.5 506.5,595.5 514.5,594.5 522.5,593.5 530.5,592.5 538.5,590.5 546.5,588.5 554.5,587.5 562.5,586.5 570.5,585.5 578.5,583.5 586.5,582.5 594.5,581.5 602.5,580.5 610.5,578.5 618.5,576.5 626.5,574.5 634.5,573.5 642.5,570.5 650.5,568.5 658.5,564.5 666.5,562.5 674.5,560.5 682.5,558.5 690.5,557.5 698.5,557.5 706.5,557.5 714.5,558.5 722.5,559.5 730.5,560.5 738.5,562.5 746.5,564.5 754.5,565.5 762.5,566.5 770.5,566.5 778.5,566.5 786.5,566.5 794.5,565.5 802.5,564.5 810.5,563.5 818.5,561.5 826.5,559.5 834.5,558.5 842.5,556.5 850.5,555.5 858.5,554.5 866.5,554.5 874.5,553.5 882.5,553.5 890.5,554.5 898.5,555.5 906.5,556.5 914.5,557.5 922.5,558.5 930.5,558.5 938.5,559.5 946.5,559.5 954.5,559.5 962.5,561.5 970.5,561.5 978.5,562.5 986.5,562.5 994.5,564.5 1002.5,565.5 1010.5,567.5 1018.5,568.5 1026.5,570.5 1034.5,571.5 1042.5,573.5 1050.5,576.5 1058.5,581.5 1066.5,589.5 1074.5,597.5 1082.5,606.5 1090.5,614.5 1098.5,623.5 1106.5,630.5 1114.5,638.5 1122.5,643.5 1130.5,645.5 1138.5,644.5 1146.5,642.5 1154.5,639.5 1162.5,634.5 1170.5,630.5 1178.5,625.5 1186.5,620.5 1194.5,615.5 1202.5,611.5 1210.5,607.5 1218.5,603.5 1226.5,597.5 1234.5,593.5 1242.5,590.5 1250.5,585.5 1258.5,582.5 1266.5,578.5 1274.5,574.5 1282.5,571.5 1290.5,567.5 1298.5,564.5 1306.5,561.5 1314.5,560.5 1322.5,559.5 1330.5,557.5 1338.5,556.5" fill="none" stroke="#ff0000" stroke-width="1" stroke-dasharray="3 3" shape-rendering="crispEdges"/>
</g>
<text x="14" y="557" font-size="9.6" fill="#000" textLength="118" lengthAdjust="spacingAndGlyphs" stroke="#000" stroke-width="0.15">MACD(12,26,9) 35.42 41.69</text>
<rect x="1696" y="546" width="1" height="1" fill="#000"/>
<rect x="1696" y="584" width="2" height="1" fill="#000"/>
<rect x="1696" y="656" width="1" height="1" fill="#000"/>
<text x="1699" y="555" font-size="9.6" fill="#000" textLength="17.5" lengthAdjust="spacingAndGlyphs" stroke="#000" stroke-width="0.15">57.1</text>
<text x="1699" y="588" font-size="9.6" fill="#000" textLength="17.5" lengthAdjust="spacingAndGlyphs" stroke="#000" stroke-width="0.15">0.00</text>
<text x="1699" y="654" font-size="9.6" fill="#000" textLength="33" lengthAdjust="spacingAndGlyphs" stroke="#000" stroke-width="0.15">-109.43</text>
<g clip-path="url(#cr)">
<line x1="11" y1="693.5" x2="1695" y2="693.5" stroke="#b4b4b4" stroke-width="1" stroke-dasharray="3 3"/>
<line x1="11" y1="737.5" x2="1695" y2="737.5" stroke="#b4b4b4" stroke-width="1" stroke-dasharray="3 3"/>
<polyline points="10.5,721.4 18.5,723.3 26.5,719.4 34.5,720.6 42.5,710.9 50.5,706.3 58.5,707.1 66.5,708.3 74.5,711.3 82.5,717.9 90.5,719.4 98.5,717.3 106.5,718.4 114.5,704.1 122.5,699.9 130.5,697.3 138.5,697.3 146.5,691.6 154.5,697.0 162.5,697.3 170.5,701.8 178.5,705.3 186.5,702.9 194.5,698.5 202.5,709.4 210.5,719.1 218.5,722.9 226.5,725.4 234.5,724.4 242.5,723.3 250.5,723.3 258.5,724.4 266.5,724.4 274.5,722.1 282.5,728.1 290.5,717.3 298.5,718.4 306.5,712.4 314.5,707.4 322.5,714.6 330.5,718.8 338.5,723.3 346.5,723.3 354.5,730.1 362.5,732.3 370.5,726.9 378.5,723.6 386.5,723.3 394.5,721.4 402.5,719.4 410.5,721.4 418.5,722.4 426.5,723.3 434.5,733.4 442.5,733.4 450.5,727.4 458.5,728.4 466.5,726.3 474.5,722.1 482.5,725.4 490.5,722.9 498.5,718.8 506.5,712.8 514.5,709.4 522.5,704.8 530.5,708.3 538.5,708.3 546.5,709.4 554.5,707.4 562.5,707.4 570.5,705.3 578.5,706.3 586.5,711.9 594.5,696.3 602.5,691.8 610.5,693.3 618.5,690.3 626.5,683.5 634.5,683.5 642.5,682.3 650.5,689.4 658.5,689.4 666.5,688.3 674.5,686.4 682.5,695.4 690.5,700.3 698.5,714.6 706.5,710.9 714.5,709.4 722.5,708.3 730.5,708.3 738.5,704.8 746.5,700.8 754.5,692.4 762.5,708.3 770.5,698.4 778.5,698.4 786.5,698.4 794.5,695.4 802.5,689.4 810.5,690.3 818.5,693.3 826.5,693.3 834.5,690.3 842.5,702.3 850.5,698.4 858.5,698.4 866.5,702.3 874.5,708.3 882.5,703.8 890.5,701.4 898.5,703.3 906.5,702.3 914.5,700.3 922.5,695.4 930.5,695.4 938.5,698.4 946.5,709.4 954.5,708.3 962.5,708.3 970.5,707.4 978.5,708.3 986.5,707.4 994.5,701.4 1002.5,700.3 1010.5,719.4 1018.5,722.1 1026.5,724.4 1034.5,717.6 1042.5,732.3 1050.5,737.2 1058.5,756.4 1066.5,756.4 1074.5,737.9 1082.5,735.4 1090.5,730.4 1098.5,731.4 1106.5,725.4 1114.5,722.1 1122.5,724.4 1130.5,721.4 1138.5,723.3 1146.5,721.4 1154.5,717.3 1162.5,717.3 1170.5,715.4 1178.5,713.4 1186.5,715.4 1194.5,715.4 1202.5,711.3 1210.5,711.3 1218.5,705.9 1226.5,702.3 1234.5,708.3 1242.5,706.3 1250.5,704.4 1258.5,708.3 1266.5,703.8 1274.5,699.6 1282.5,696.4 1290.5,698.3 1298.5,702.3 1306.5,704.4 1314.5,713.3 1322.5,707.4 1330.5,707.4 1338.5,712.4" fill="none" stroke="#1e90ff" stroke-width="1" stroke-linejoin="round" shape-rendering="crispEdges"/>
</g>
<text x="14" y="672" font-size="9.6" fill="#000" textLength="67" lengthAdjust="spacingAndGlyphs" stroke="#000" stroke-width="0.15">RSI(14) 52.5771</text>
<rect x="1696" y="661" width="1" height="1" fill="#000"/>
<rect x="1696" y="770" width="1" height="1" fill="#000"/>
<text x="1699" y="670" font-size="9.6" fill="#000" textLength="14.5" lengthAdjust="spacingAndGlyphs" stroke="#000" stroke-width="0.15">100</text>
<text x="1698.5" y="697" font-size="9.6" fill="#000" textLength="9.5" lengthAdjust="spacingAndGlyphs" stroke="#000" stroke-width="0.15">70</text>
<text x="1698.5" y="741" font-size="9.6" fill="#000" textLength="9.5" lengthAdjust="spacingAndGlyphs" stroke="#000" stroke-width="0.15">30</text>
<text x="1698.5" y="768" font-size="9.6" fill="#000" textLength="5" lengthAdjust="spacingAndGlyphs" stroke="#000" stroke-width="0.15">0</text>
<rect x="10" y="772" width="1" height="3" fill="#000"/>
<text x="8.6" y="784" font-size="9.6" fill="#000" textLength="51.6" lengthAdjust="spacingAndGlyphs" stroke="#000" stroke-width="0.15">23 Oct 2019</text>
<rect x="74" y="772" width="1" height="3" fill="#000"/>
<text x="73.8" y="784" font-size="9.6" fill="#000" textLength="53.5" lengthAdjust="spacingAndGlyphs" stroke="#000" stroke-width="0.15">29 Oct 05:00</text>
<rect x="138" y="772" width="1" height="3" fill="#000"/>
<text x="136.5" y="784" font-size="9.6" fill="#000" textLength="52.9" lengthAdjust="spacingAndGlyphs" stroke="#000" stroke-width="0.15">4 Nov 05:00</text>
<rect x="202" y="772" width="1" height="3" fill="#000"/>
<text x="200.4" y="784" font-size="9.6" fill="#000" textLength="52.8" lengthAdjust="spacingAndGlyphs" stroke="#000" stroke-width="0.15">8 Nov 05:00</text>
<rect x="266" y="772" width="1" height="3" fill="#000"/>
<text x="264.9" y="784" font-size="9.6" fill="#000" textLength="57.3" lengthAdjust="spacingAndGlyphs" stroke="#000" stroke-width="0.15">14 Nov 05:00</text>
<rect x="330" y="772" width="1" height="3" fill="#000"/>
<text x="328.8" y="784" font-size="9.6" fill="#000" textLength="57.6" lengthAdjust="spacingAndGlyphs" stroke="#000" stroke-width="0.15">20 Nov 05:00</text>
<rect x="394" y="772" width="1" height="3" fill="#000"/>
<text x="393.2" y="784" font-size="9.6" fill="#000" textLength="56.8" lengthAdjust="spacingAndGlyphs" stroke="#000" stroke-width="0.15">26 Nov 05:00</text>
<rect x="458" y="772" width="1" height="3" fill="#000"/>
<text x="457.3" y="784" font-size="9.6" fill="#000" textLength="49.9" lengthAdjust="spacingAndGlyphs" stroke="#000" stroke-width="0.15">2 Dec 05:00</text>
<rect x="522" y="772" width="1" height="3" fill="#000"/>
<text x="521.2" y="784" font-size="9.6" fill="#000" textLength="50.2" lengthAdjust="spacingAndGlyphs" stroke="#000" stroke-width="0.15">6 Dec 05:00</text>
<rect x="586" y="772" width="1" height="3" fill="#000"/>
<text x="585.3" y="784" font-size="9.6" fill="#000" textLength="55.0" lengthAdjust="spacingAndGlyphs" stroke="#000" stroke-width="0.15">12 Dec 05:00</text>
<rect x="650" y="772" width="1" height="3" fill="#000"/>
<text x="648.8" y="784" font-size="9.6" fill="#000" textLength="55.6" lengthAdjust="spacingAndGlyphs" stroke="#000" stroke-width="0.15">18 Dec 05:00</text>
<rect x="714" y="772" width="1" height="3" fill="#000"/>
<text x="713.1" y="784" font-size="9.6" fill="#000" textLength="55.2" lengthAdjust="spacingAndGlyphs" stroke="#000" stroke-width="0.15">24 Dec 05:00</text>
<rect x="778" y="772" width="1" height="3" fill="#000"/>
<text x="776.7" y="784" font-size="9.6" fill="#000" textLength="55.6" lengthAdjust="spacingAndGlyphs" stroke="#000" stroke-width="0.15">30 Dec 05:00</text>
<rect x="842" y="772" width="1" height="3" fill="#000"/>
<text x="840.3" y="784" font-size="9.6" fill="#000" textLength="49.1" lengthAdjust="spacingAndGlyphs" stroke="#000" stroke-width="0.15">6 Jan 05:00</text>
<rect x="906" y="772" width="1" height="3" fill="#000"/>
<text x="904.8" y="784" font-size="9.6" fill="#000" textLength="53.5" lengthAdjust="spacingAndGlyphs" stroke="#000" stroke-width="0.15">10 Jan 05:00</text>
<rect x="970" y="772" width="1" height="3" fill="#000"/>
<text x="968.6" y="784" font-size="9.6" fill="#000" textLength="53.8" lengthAdjust="spacingAndGlyphs" stroke="#000" stroke-width="0.15">16 Jan 05:00</text>
<rect x="1034" y="772" width="1" height="3" fill="#000"/>
<text x="1033.0" y="784" font-size="9.6" fill="#000" textLength="53.3" lengthAdjust="spacingAndGlyphs" stroke="#000" stroke-width="0.15">22 Jan 05:00</text>
<rect x="1098" y="772" width="1" height="3" fill="#000"/>
<text x="1097.1" y="784" font-size="9.6" fill="#000" textLength="50.0" lengthAdjust="spacingAndGlyphs" stroke="#000" stroke-width="0.15">5 Feb 05:00</text>
<rect x="1162" y="772" width="1" height="3" fill="#000"/>
<text x="1161.1" y="784" font-size="9.6" fill="#000" textLength="55.3" lengthAdjust="spacingAndGlyphs" stroke="#000" stroke-width="0.15">11 Feb 05:00</text>
<rect x="1226" y="772" width="1" height="3" fill="#000"/>
<text x="1225.1" y="784" font-size="9.6" fill="#000" textLength="55.3" lengthAdjust="spacingAndGlyphs" stroke="#000" stroke-width="0.15">17 Feb 05:00</text>
<rect x="1290" y="772" width="1" height="3" fill="#000"/>
<text x="1288.5" y="784" font-size="9.6" fill="#000" textLength="55.6" lengthAdjust="spacingAndGlyphs" stroke="#000" stroke-width="0.15">21 Feb 05:00</text>
</svg>
</body></html>
